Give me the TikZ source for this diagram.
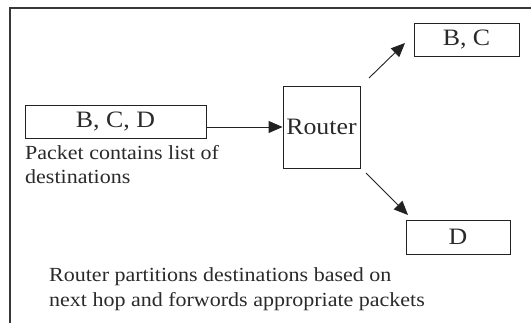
\documentclass[tikz,border=0pt]{standalone}
\usepackage{fontspec}
\setmainfont{Liberation Serif}[FakeStretch=1.1]
\usetikzlibrary{arrows.meta}
\definecolor{ink}{HTML}{222222}
\definecolor{txt}{HTML}{2A2A2A}
\tikzset{
  boxnode/.style={draw=ink, line width=0.9pt, inner sep=0pt, text=txt,
    font=\fontsize{23.5}{26}\selectfont},
  note/.style={anchor=base west, inner sep=0pt, text=txt,
    font=\fontsize{20}{23}\selectfont},
  conn/.style={draw=ink, line width=0.9pt, -{Triangle[length=14pt,width=12pt]}},
  frameline/.style={draw=ink!90, line width=1.3pt}
}
\begin{document}
\begin{tikzpicture}[x=1pt,y=-1pt]
\useasboundingbox (0,0) rectangle (531,323);
\fill[white] (0,0) rectangle (531,323);
% frame
\coordinate (f1) at (10,323);
\coordinate (f2) at (10,8);
\coordinate (f3) at (531,8);
\draw[frameline] (f1) -- (f2) -- (f3);
% boxes
\node[boxnode, minimum width=181pt, minimum height=33pt] (bcd) at (115.5,121.5) {B, C, D};
\node[boxnode, minimum width=77pt, minimum height=82pt] (router) at (321.5,127) {Router};
\node[boxnode, minimum width=105pt, minimum height=33pt] (bc) at (466.5,39.5) {B, C};
\node[boxnode, minimum width=104pt, minimum height=34pt] (d) at (458,237) {D};
% connectors
\draw[conn] (bcd.east |- router.west) -- (router.west);
\coordinate (u0) at (369,78);
\coordinate (u1) at (405,43);
\draw[conn] (u0) -- (u1);
\coordinate (v0) at (366,173);
\coordinate (v1) at (408,215);
\draw[conn] (v0) -- (v1);
% texts
\node[note] (n1) at (25,160) {Packet contains list of};
\node[note] (n2) at (25,183.5) {destinations};
\node[note] (n3) at (49,282) {Router partitions destinations based on};
\node[note] (n4) at (49,307) {next hop and forwords appropriate packets};
\end{tikzpicture}
\end{document}
